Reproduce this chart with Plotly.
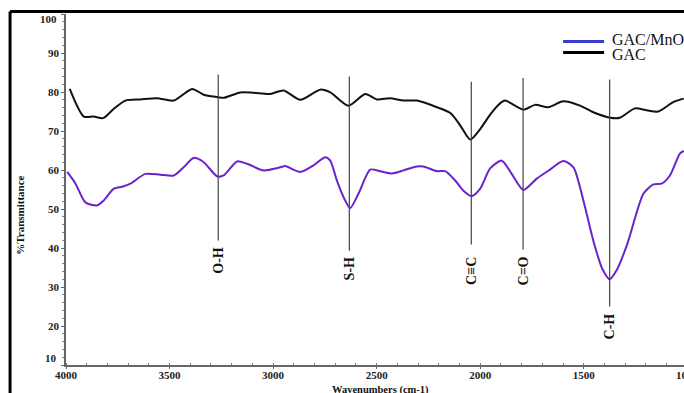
import plotly.graph_objects as go

# ---- data ----
gac_wn = [3982, 3914, 3866, 3821, 3769, 3713, 3641, 3560, 3480, 3391, 3335, 3271, 3239, 3158, 3095,
          3014, 2949, 2869, 2773, 2724, 2636, 2555, 2499, 2436, 2370, 2306, 2209, 2144, 2096, 2048,
          2000, 1952, 1910, 1880, 1792, 1735, 1671, 1599, 1518, 1454, 1373, 1325, 1253, 1196, 1140,
          1068, 1017]
gac_t = [80.8, 73.7, 73.7, 73.3, 75.7, 77.8, 78.1, 78.4, 77.8, 80.8, 79.3, 78.7, 78.5, 79.9, 79.8,
         79.5, 80.4, 78.0, 80.6, 79.9, 76.5, 79.5, 78.1, 78.4, 77.8, 77.8, 76.1, 74.6, 71.4, 67.8,
         70.5, 74.2, 76.8, 77.8, 75.5, 76.7, 76.1, 77.6, 76.5, 74.8, 73.4, 73.4, 75.8, 75.3, 75.0,
         77.4, 78.3]

mno_wn = [3994, 3954, 3906, 3850, 3818, 3769, 3729, 3689, 3617, 3544, 3480, 3432, 3384, 3335, 3271,
          3239, 3174, 3126, 3046, 2965, 2941, 2869, 2805, 2748, 2724, 2692, 2652, 2628, 2588, 2531,
          2483, 2426, 2370, 2306, 2274, 2209, 2169, 2121, 2081, 2041, 2000, 1952, 1896, 1848, 1792,
          1727, 1663, 1599, 1550, 1502, 1454, 1410, 1375, 1340, 1290, 1212, 1164, 1124, 1084, 1036,
          1017]
mno_t = [59.5, 56.5, 51.7, 50.9, 52.2, 55.2, 55.7, 56.5, 59.0, 58.8, 58.6, 60.7, 63.1, 62.0, 58.4,
         58.6, 62.2, 61.6, 59.9, 60.7, 61.0, 59.5, 61.2, 63.3, 62.4, 57.3, 52.2, 50.2, 53.9, 60.1,
         59.7, 59.1, 59.9, 60.9, 60.9, 59.7, 59.7, 57.3, 54.7, 53.3, 55.2, 60.4, 62.4, 59.0, 54.9,
         57.8, 60.1, 62.3, 60.7, 52.2, 41.9, 34.6, 32.0, 34.4, 41.0, 53.9, 56.3, 56.5, 58.6, 64.2,
         64.9]

bond_labels = ["O-H", "S-H", "C≡C", "C=O", "C-H"]
bond_wn = [3265, 2632, 2043, 1793, 1375]
bond_top = [84.5, 84.0, 82.6, 83.6, 83.2]
bond_bottom = [41.9, 39.3, 40.9, 39.6, 25.0]
bond_text_y = [36.8, 34.6, 34.2, 34.0, 19.8]

series_names = ["GAC/MnO2", "GAC"]
x_ticks = [4000, 3500, 3000, 2500, 2000, 1500]
y_ticks = [10, 20, 30, 40, 50, 60, 70, 80, 90, 100]

# ---- figure ----
SERIF = "Liberation Serif"
TICKFONT = dict(family=SERIF, size=11, color="#222222", weight="bold")
fig = go.Figure()
fig.add_trace(go.Scatter(x=mno_wn, y=mno_t, mode="lines",
                         line=dict(color="#6B22CC", width=2, shape="spline", smoothing=0.7),
                         name=series_names[0], showlegend=False))
fig.add_trace(go.Scatter(x=gac_wn, y=gac_t, mode="lines",
                         line=dict(color="#111111", width=2, shape="spline", smoothing=0.7),
                         name=series_names[1], showlegend=False))

shapes = []
annotations = []
for lab, wn, top, bot, ty in zip(bond_labels, bond_wn, bond_top, bond_bottom, bond_text_y):
    shapes.append(dict(type="line", xref="x", yref="y", x0=wn, x1=wn, y0=bot, y1=top,
                       line=dict(color="#444444", width=1.2)))
    annotations.append(dict(xref="x", yref="y", x=wn, y=ty, text=lab, textangle=-90, showarrow=False,
                            font=dict(family=SERIF, size=14, color="#111111", weight="bold")))

# frame (top & left black border)
shapes.append(dict(type="line", xref="paper", yref="paper", x0=-0.0905, x1=1.05, y0=1.0071, y1=1.0071,
                   line=dict(color="black", width=3)))
shapes.append(dict(type="line", xref="paper", yref="paper", x0=-0.0905, x1=-0.0905, y0=-0.1, y1=1.0071,
                   line=dict(color="black", width=3)))

# legend
shapes.append(dict(type="line", xref="paper", yref="paper", x0=0.8044, x1=0.8707, y0=0.9218, y1=0.9218,
                   line=dict(color="#3a3ad0", width=3)))
shapes.append(dict(type="line", xref="paper", yref="paper", x0=0.8044, x1=0.8707, y0=0.8905, y1=0.8905,
                   line=dict(color="black", width=3)))
annotations.append(dict(xref="paper", yref="paper", x=0.8803, y=(365 - 39) / 351.5, xanchor="left", yanchor="middle",
                        text=series_names[0], showarrow=False,
                        font=dict(family=SERIF, size=16, color="#111111")))
annotations.append(dict(xref="paper", yref="paper", x=0.8803, y=(365 - 54) / 351.5, xanchor="left", yanchor="middle",
                        text=series_names[1], showarrow=False,
                        font=dict(family=SERIF, size=16, color="#111111")))

# end tick labels placed inward as in the reference, and the partly visible 1000
annotations.append(dict(xref="paper", yref="paper", x=-0.012, y=(365 - 19) / 351.5, xanchor="right", yanchor="middle",
                        text="100", showarrow=False, font=TICKFONT))
annotations.append(dict(xref="paper", yref="paper", x=-0.012, y=(365 - 358) / 351.5, xanchor="right", yanchor="middle",
                        text="10", showarrow=False, font=TICKFONT))
annotations.append(dict(xref="paper", yref="paper", x=(688 - 65.5) / 618.5, y=(365 - 367) / 351.5,
                        xanchor="center", yanchor="top",
                        text="1000", showarrow=False, font=TICKFONT))

# axis titles
annotations.append(dict(xref="paper", yref="paper", x=(380 - 65.5) / 618.5, y=(365 - 382) / 351.5,
                        xanchor="center", yanchor="top",
                        text="Wavenumbers (cm-1)", showarrow=False,
                        font=dict(family=SERIF, size=10.5, color="#111111", weight="bold")))
annotations.append(dict(xref="paper", yref="paper", x=(20 - 65.5) / 618.5, y=(365 - 215) / 351.5,
                        xanchor="center", yanchor="middle", textangle=-90,
                        text="%Transmittance", showarrow=False,
                        font=dict(family=SERIF, size=11, color="#111111", weight="bold")))

fig.update_layout(
    width=684, height=393,
    margin=dict(l=65.5, r=0, t=13.5, b=28),
    paper_bgcolor="white", plot_bgcolor="white",
    shapes=shapes, annotations=annotations,
    showlegend=False,
)
fig.update_xaxes(range=[4000, 1016], tickvals=x_ticks, ticktext=[str(v) for v in x_ticks],
                 showgrid=False, zeroline=False, showline=True, linecolor="#666666", linewidth=1.5,
                 ticks="outside", ticklen=2, tickcolor="#666666", ticklabelstandoff=-3,
                 minor=dict(dtick=100, ticks="inside", ticklen=2, tickcolor="#777777"),
                 tickfont=TICKFONT)
fig.update_yaxes(range=[10, 100], tickvals=y_ticks,
                 ticktext=["" if v in (10, 100) else str(v) for v in y_ticks],
                 showgrid=False, zeroline=False, showline=True, linecolor="#666666", linewidth=1.5,
                 ticks="outside", ticklen=3, tickcolor="#666666",
                 minor=dict(dtick=2, ticks="outside", ticklen=2, tickcolor="#888888"),
                 tickfont=TICKFONT)

fig.write_html("out.html")
